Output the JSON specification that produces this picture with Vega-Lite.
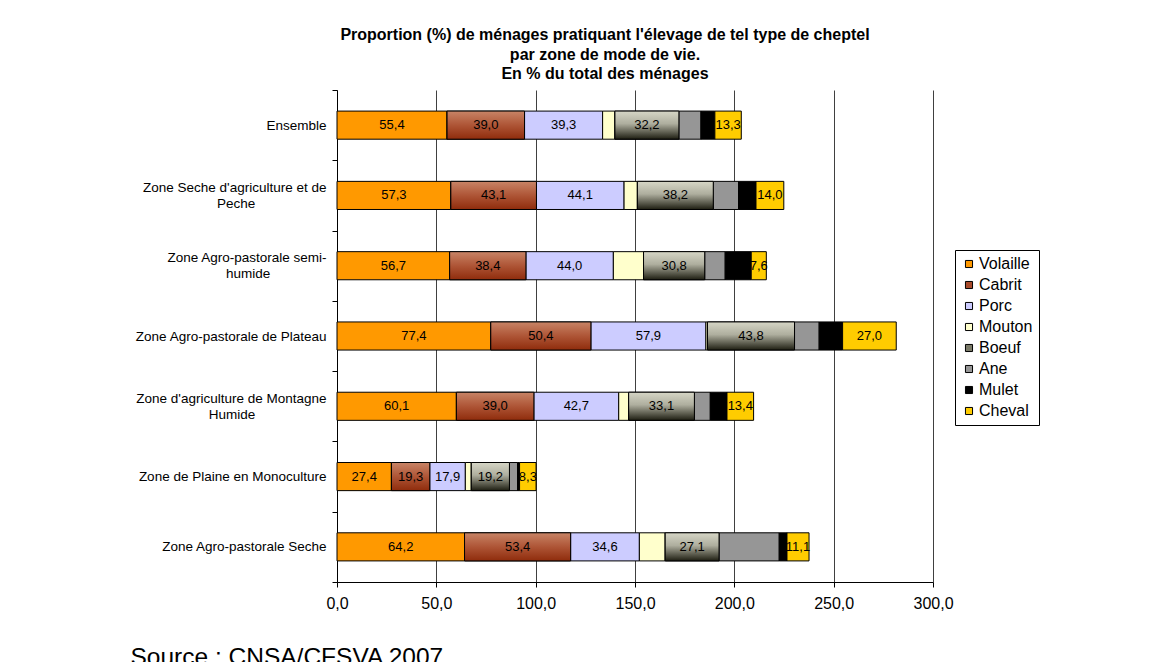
{
  "$schema": "https://vega.github.io/schema/vega-lite/v6.json",
  "width": 596,
  "height": 492,
  "autosize": {"type": "none"},
  "padding": {"left": 337, "top": 90, "right": 226, "bottom": 80},
  "background": "white",
  "config": {
    "font": "Liberation Sans",
    "locale": {"number": {"decimal": ",", "thousands": " ", "grouping": [3], "currency": ["", " €"]}},
    "view": {"stroke": null}
  },
  "title": {
    "text": ["Proportion (%) de ménages pratiquant l'élevage de tel type de cheptel", "par zone de mode de vie.", "En % du total des ménages"],
    "font": "Liberation Sans",
    "fontSize": 16,
    "fontWeight": "bold",
    "color": "#000",
    "lineHeight": 19.5,
    "anchor": "middle",
    "frame": "group",
    "dx": -30,
    "offset": 1
  },
  "data": {
    "values": [
      {"zone": "Ensemble", "cheptel": "Volaille", "pct": 55.4},
      {"zone": "Ensemble", "cheptel": "Cabrit", "pct": 39.0},
      {"zone": "Ensemble", "cheptel": "Porc", "pct": 39.3},
      {"zone": "Ensemble", "cheptel": "Mouton", "pct": 6.2},
      {"zone": "Ensemble", "cheptel": "Boeuf", "pct": 32.2},
      {"zone": "Ensemble", "cheptel": "Ane", "pct": 11.1},
      {"zone": "Ensemble", "cheptel": "Mulet", "pct": 7.0},
      {"zone": "Ensemble", "cheptel": "Cheval", "pct": 13.3},
      {"zone": "Zone Seche d'agriculture et de Peche", "cheptel": "Volaille", "pct": 57.3},
      {"zone": "Zone Seche d'agriculture et de Peche", "cheptel": "Cabrit", "pct": 43.1},
      {"zone": "Zone Seche d'agriculture et de Peche", "cheptel": "Porc", "pct": 44.1},
      {"zone": "Zone Seche d'agriculture et de Peche", "cheptel": "Mouton", "pct": 6.7},
      {"zone": "Zone Seche d'agriculture et de Peche", "cheptel": "Boeuf", "pct": 38.2},
      {"zone": "Zone Seche d'agriculture et de Peche", "cheptel": "Ane", "pct": 12.7},
      {"zone": "Zone Seche d'agriculture et de Peche", "cheptel": "Mulet", "pct": 8.8},
      {"zone": "Zone Seche d'agriculture et de Peche", "cheptel": "Cheval", "pct": 14.0},
      {"zone": "Zone Agro-pastorale semi-humide", "cheptel": "Volaille", "pct": 56.7},
      {"zone": "Zone Agro-pastorale semi-humide", "cheptel": "Cabrit", "pct": 38.4},
      {"zone": "Zone Agro-pastorale semi-humide", "cheptel": "Porc", "pct": 44.0},
      {"zone": "Zone Agro-pastorale semi-humide", "cheptel": "Mouton", "pct": 15.2},
      {"zone": "Zone Agro-pastorale semi-humide", "cheptel": "Boeuf", "pct": 30.8},
      {"zone": "Zone Agro-pastorale semi-humide", "cheptel": "Ane", "pct": 10.3},
      {"zone": "Zone Agro-pastorale semi-humide", "cheptel": "Mulet", "pct": 13.1},
      {"zone": "Zone Agro-pastorale semi-humide", "cheptel": "Cheval", "pct": 7.6},
      {"zone": "Zone Agro-pastorale de Plateau", "cheptel": "Volaille", "pct": 77.4},
      {"zone": "Zone Agro-pastorale de Plateau", "cheptel": "Cabrit", "pct": 50.4},
      {"zone": "Zone Agro-pastorale de Plateau", "cheptel": "Porc", "pct": 57.9},
      {"zone": "Zone Agro-pastorale de Plateau", "cheptel": "Mouton", "pct": 0.8},
      {"zone": "Zone Agro-pastorale de Plateau", "cheptel": "Boeuf", "pct": 43.8},
      {"zone": "Zone Agro-pastorale de Plateau", "cheptel": "Ane", "pct": 12.4},
      {"zone": "Zone Agro-pastorale de Plateau", "cheptel": "Mulet", "pct": 11.8},
      {"zone": "Zone Agro-pastorale de Plateau", "cheptel": "Cheval", "pct": 27.0},
      {"zone": "Zone d'agriculture de Montagne Humide", "cheptel": "Volaille", "pct": 60.1},
      {"zone": "Zone d'agriculture de Montagne Humide", "cheptel": "Cabrit", "pct": 39.0},
      {"zone": "Zone d'agriculture de Montagne Humide", "cheptel": "Porc", "pct": 42.7},
      {"zone": "Zone d'agriculture de Montagne Humide", "cheptel": "Mouton", "pct": 5.0},
      {"zone": "Zone d'agriculture de Montagne Humide", "cheptel": "Boeuf", "pct": 33.1},
      {"zone": "Zone d'agriculture de Montagne Humide", "cheptel": "Ane", "pct": 8.0},
      {"zone": "Zone d'agriculture de Montagne Humide", "cheptel": "Mulet", "pct": 8.4},
      {"zone": "Zone d'agriculture de Montagne Humide", "cheptel": "Cheval", "pct": 13.4},
      {"zone": "Zone de Plaine en Monoculture", "cheptel": "Volaille", "pct": 27.4},
      {"zone": "Zone de Plaine en Monoculture", "cheptel": "Cabrit", "pct": 19.3},
      {"zone": "Zone de Plaine en Monoculture", "cheptel": "Porc", "pct": 17.9},
      {"zone": "Zone de Plaine en Monoculture", "cheptel": "Mouton", "pct": 3.0},
      {"zone": "Zone de Plaine en Monoculture", "cheptel": "Boeuf", "pct": 19.2},
      {"zone": "Zone de Plaine en Monoculture", "cheptel": "Ane", "pct": 4.1},
      {"zone": "Zone de Plaine en Monoculture", "cheptel": "Mulet", "pct": 1.0},
      {"zone": "Zone de Plaine en Monoculture", "cheptel": "Cheval", "pct": 8.3},
      {"zone": "Zone Agro-pastorale Seche", "cheptel": "Volaille", "pct": 64.2},
      {"zone": "Zone Agro-pastorale Seche", "cheptel": "Cabrit", "pct": 53.4},
      {"zone": "Zone Agro-pastorale Seche", "cheptel": "Porc", "pct": 34.6},
      {"zone": "Zone Agro-pastorale Seche", "cheptel": "Mouton", "pct": 13.0},
      {"zone": "Zone Agro-pastorale Seche", "cheptel": "Boeuf", "pct": 27.1},
      {"zone": "Zone Agro-pastorale Seche", "cheptel": "Ane", "pct": 30.3},
      {"zone": "Zone Agro-pastorale Seche", "cheptel": "Mulet", "pct": 3.9},
      {"zone": "Zone Agro-pastorale Seche", "cheptel": "Cheval", "pct": 11.1}
    ]
  },
  "transform": [
    {"calculate": "indexof(['Volaille','Cabrit','Porc','Mouton','Boeuf','Ane','Mulet','Cheval'], datum.cheptel)", "as": "rang"},
    {"stack": "pct", "groupby": ["zone"], "sort": [{"field": "rang", "order": "ascending"}], "as": ["x0", "x1"]},
    {"calculate": "(datum.x0 + datum.x1) / 2", "as": "xm"}
  ],
  "encoding": {
    "y": {
      "field": "zone",
      "type": "nominal",
      "sort": ["Ensemble", "Zone Seche d'agriculture et de Peche", "Zone Agro-pastorale semi-humide", "Zone Agro-pastorale de Plateau", "Zone d'agriculture de Montagne Humide", "Zone de Plaine en Monoculture", "Zone Agro-pastorale Seche"],
      "scale": {"paddingInner": 0, "paddingOuter": 0},
      "axis": {
        "title": null,
        "domain": true,
        "domainColor": "#000",
        "ticks": true,
        "tickBand": "extent",
        "tickSize": 5,
        "tickColor": "#000",
        "grid": false,
        "labelFont": "Liberation Sans",
        "labelFontSize": 13.5,
        "labelColor": "#000",
        "labelLimit": 0,
        "labelLineHeight": 8,
        "labelBaseline": "middle",
        "labelOffset": -8,
        "labelAlign": "right",
        "labelPadding": 6,
        "labelExpr": "indexof(datum.label, 'et de Peche') >= 0 ? [\"Zone Seche d'agriculture et de\", '\u00a0\u200b', 'Peche\u00a0\u00a0\u00a0\u00a0\u00a0\u00a0\u00a0\u00a0\u00a0\u00a0\u00a0\u00a0\u00a0\u00a0\u00a0\u00a0\u00a0\u00a0\u00a0\u200b'] : indexof(datum.label, 'semi-humide') >= 0 ? ['Zone Agro-pastorale semi-', '\u00a0\u200b', 'humide\u00a0\u00a0\u00a0\u00a0\u00a0\u00a0\u00a0\u00a0\u00a0\u00a0\u00a0\u00a0\u00a0\u00a0\u00a0\u200b'] : indexof(datum.label, 'Montagne Humide') >= 0 ? [\"Zone d'agriculture de Montagne\", '\u00a0\u200b', 'Humide\u00a0\u00a0\u00a0\u00a0\u00a0\u00a0\u00a0\u00a0\u00a0\u00a0\u00a0\u00a0\u00a0\u00a0\u00a0\u00a0\u00a0\u00a0\u00a0\u200b'] : ['\u00a0\u200b', datum.label]"
      }
    }
  },
  "layer": [
    {
      "mark": {"type": "bar", "height": {"band": 0.4}, "stroke": "#000", "strokeWidth": 1},
      "encoding": {
        "x": {
          "field": "x0",
          "type": "quantitative",
          "scale": {"domain": [0, 300], "nice": false},
          "axis": {
            "values": [0, 50, 100, 150, 200, 250, 300],
            "format": ".1f",
            "grid": true,
            "gridColor": "#404040",
            "gridWidth": 1,
            "domain": true,
            "domainColor": "#000",
            "tickColor": "#000",
            "tickSize": 5,
            "labelFont": "Liberation Sans",
            "labelFontSize": 16,
            "labelColor": "#000",
            "labelPadding": 8,
            "labelFlush": false,
            "title": "Source : CNSA/CFSVA 2007.",
            "titleFont": "Liberation Sans",
            "titleFontSize": 24.5,
            "titleFontWeight": "normal",
            "titleColor": "#000",
            "titleAlign": "left",
            "titleAnchor": "start",
            "titleBaseline": "alphabetic",
            "titleX": -207,
            "titleY": 82
          }
        },
        "x2": {"field": "x1"},
        "color": {
          "field": "cheptel",
          "type": "nominal",
          "scale": {
            "domain": ["Volaille", "Cabrit", "Porc", "Mouton", "Boeuf", "Ane", "Mulet", "Cheval"],
            "range": ["#FF9900", "#A84A2A", "#CCCCFF", "#FFFFCC", "#7A7A68", "#969696", "#000000", "#FFCC00"]
          },
          "legend": {
            "title": null,
            "orient": "none",
            "legendX": 618,
            "legendY": 160,
            "direction": "vertical",
            "strokeColor": "#000",
            "fillColor": "#fff",
            "padding": 6,
            "symbolType": "square",
            "symbolSize": 50,
            "symbolStrokeColor": "#000",
            "symbolStrokeWidth": 1,
            "labelFont": "Liberation Sans",
            "labelFontSize": 16,
            "labelColor": "#000",
            "labelOffset": 2,
            "rowPadding": 5
          }
        }
      }
    },
    {
      "transform": [{"filter": "datum.cheptel == 'Cabrit'"}],
      "mark": {
        "type": "bar",
        "height": {"band": 0.4},
        "stroke": "#000",
        "strokeWidth": 1,
        "color": {"gradient": "linear", "x1": 0, "y1": 0, "x2": 0, "y2": 1, "stops": [{"offset": 0, "color": "#C88466"}, {"offset": 0.5, "color": "#AE5536"}, {"offset": 1, "color": "#8F2C0C"}]}
      },
      "encoding": {
        "x": {"field": "x0", "type": "quantitative"},
        "x2": {"field": "x1"}
      }
    },
    {
      "transform": [{"filter": "datum.cheptel == 'Boeuf'"}],
      "mark": {
        "type": "bar",
        "height": {"band": 0.4},
        "stroke": "#000",
        "strokeWidth": 1,
        "color": {"gradient": "linear", "x1": 0, "y1": 0, "x2": 0, "y2": 1, "stops": [{"offset": 0, "color": "#D6D6C6"}, {"offset": 0.45, "color": "#AEAE9E"}, {"offset": 1, "color": "#1E1E12"}]}
      },
      "encoding": {
        "x": {"field": "x0", "type": "quantitative"},
        "x2": {"field": "x1"}
      }
    },
    {
      "transform": [{"filter": "indexof(['Volaille','Cabrit','Porc','Boeuf','Cheval'], datum.cheptel) >= 0"}],
      "mark": {"type": "text", "font": "Liberation Sans", "fontSize": 13, "color": "#000", "align": "center", "baseline": "middle"},
      "encoding": {
        "x": {"field": "xm", "type": "quantitative"},
        "text": {"field": "pct", "type": "quantitative", "format": ".1f"}
      }
    }
  ]
}
